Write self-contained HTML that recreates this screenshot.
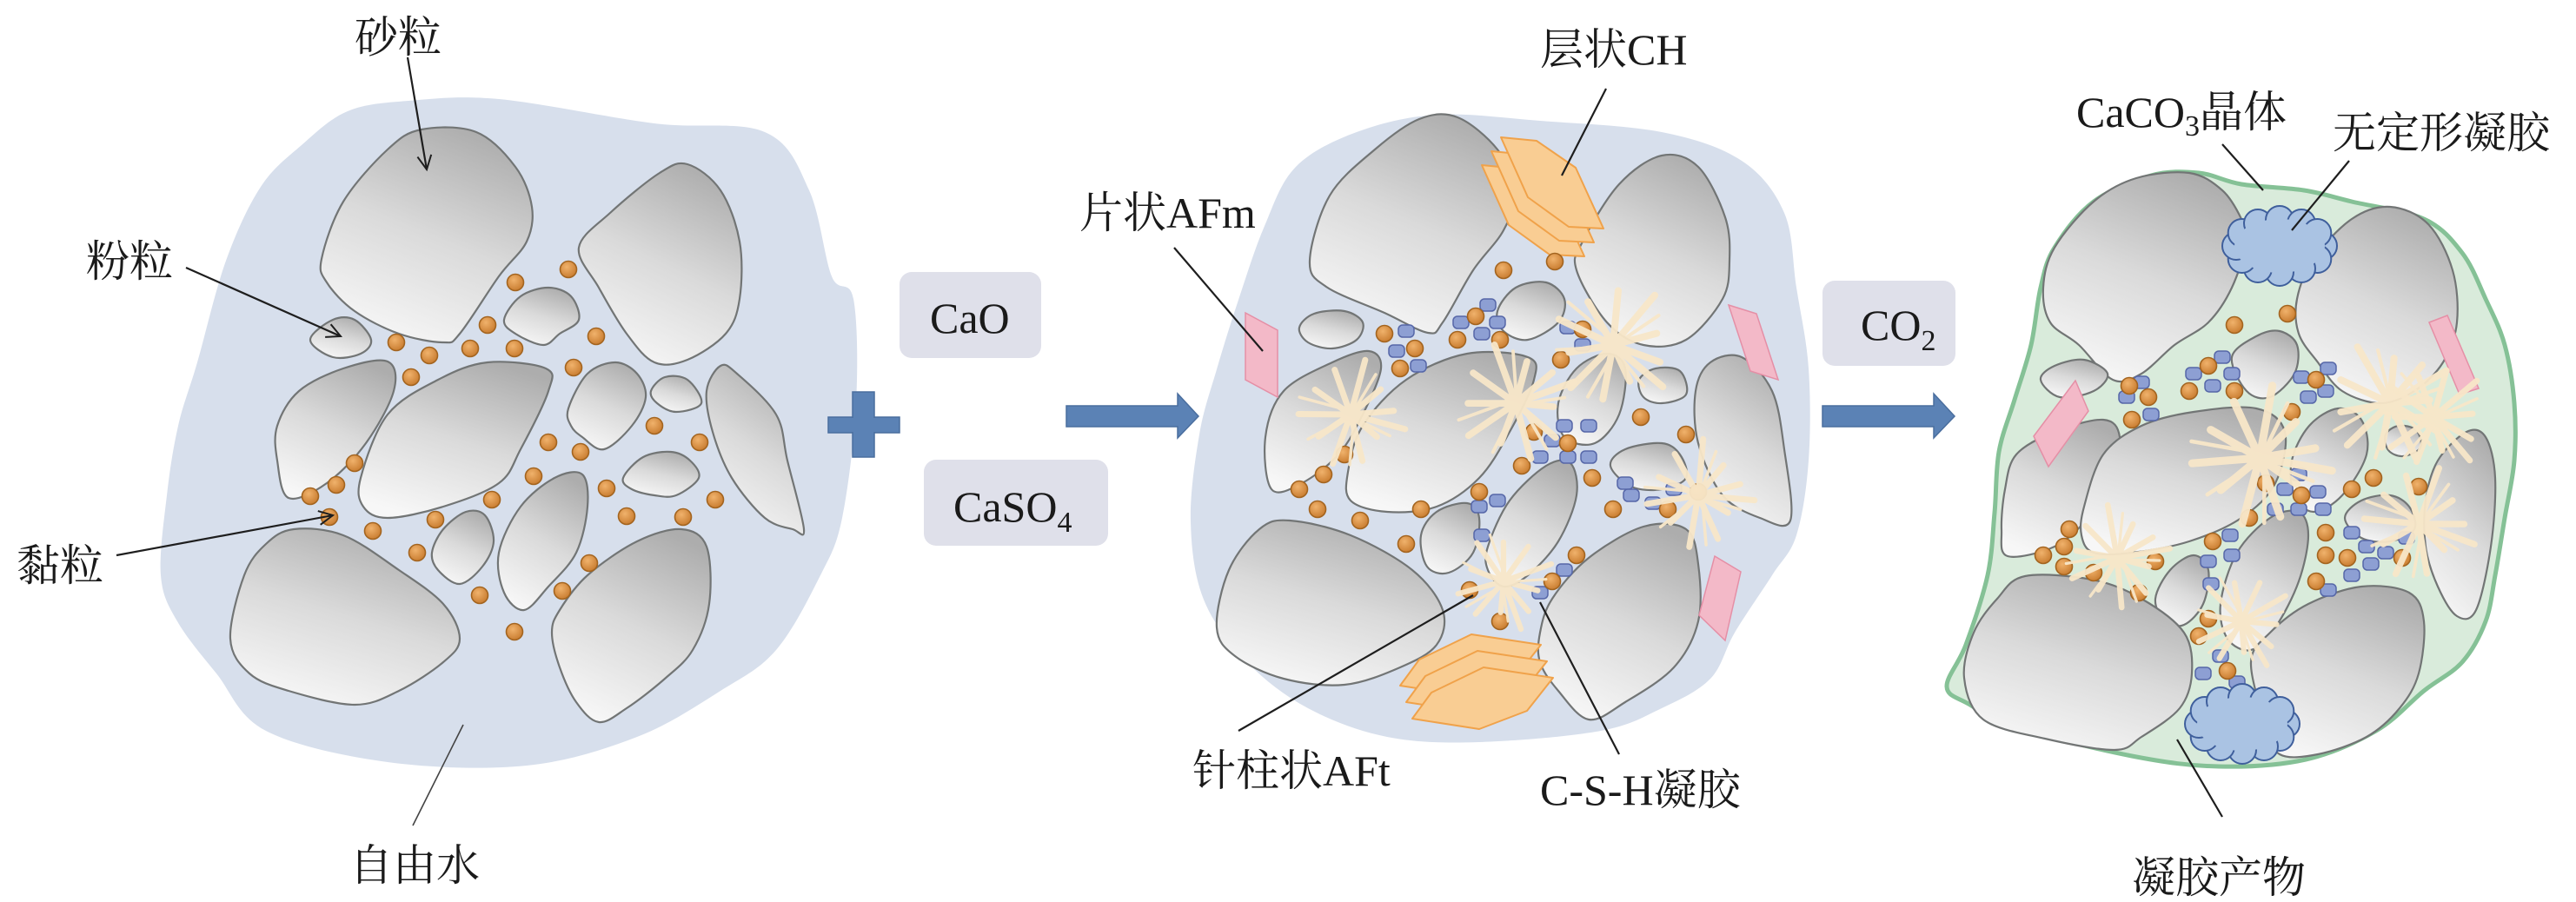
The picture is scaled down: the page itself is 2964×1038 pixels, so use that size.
<!DOCTYPE html>
<html><head><meta charset="utf-8">
<style>
html,body{margin:0;padding:0;background:#fff;}
svg{display:block}
.t{font-family:"Liberation Serif","Noto Serif CJK SC",serif;font-size:50px;fill:#1a1a1a}
.s{fill:url(#sg);stroke:#727575;stroke-width:2.2;stroke-linejoin:round}
.d{fill:url(#og);stroke:#a3641f;stroke-width:1.6}
.ld{stroke:#1e1e1e;stroke-width:2.2;fill:none}
.pk{fill:#f3b9c8;stroke:#e58fa6;stroke-width:1.5}
.hx{fill:#f9cd93;stroke:#f0a24a;stroke-width:2;stroke-linejoin:round}
.bx{fill:#dfe0ea}
</style></head><body>
<svg width="2964" height="1038" viewBox="0 0 2964 1038" xmlns="http://www.w3.org/2000/svg">
<defs>
<linearGradient id="sg" x1="0.3" y1="1" x2="0.7" y2="0">
<stop offset="0" stop-color="#f7f7f7"/><stop offset="0.5" stop-color="#dadada"/><stop offset="1" stop-color="#adadad"/>
</linearGradient>
<radialGradient id="og" cx="0.4" cy="0.35" r="0.7">
<stop offset="0" stop-color="#f0b26c"/><stop offset="1" stop-color="#c77a2d"/>
</radialGradient>
<marker id="ar" markerWidth="24" markerHeight="24" refX="20" refY="12" orient="auto" markerUnits="userSpaceOnUse">
<path d="M4,4 L20,12 L4,20" fill="none" stroke="#1e1e1e" stroke-width="2"/>
</marker>
<rect id="q" x="-9" y="-7" width="18" height="14" rx="5" fill="#8d9fd3" stroke="#5667a8" stroke-width="1.5"/>
<g id="star" opacity="0.95">
<path d="M0,0L65,0 M0,0L36,17 M0,0L27,48 M0,0L-5,60 M0,0L-29,34 M0,0L-58,15 M0,0L-47,-17 M0,0L-31,-45 M0,0L0,-65 M0,0L26,-37 M0,0L47,-17" stroke="#f8e7c9" stroke-width="7" stroke-linecap="round" fill="none"/>
<path d="M10,4L50,12 M-6,8L-40,40 M4,-10L16,-52 M-10,-4L-62,-4 M6,10L14,56" stroke="#f8e7c9" stroke-width="3.5" stroke-linecap="round" fill="none"/>
<circle r="12" fill="#f8e7c9"/>
</g>
<g id="cl">
<g fill="#aac3e3" stroke="#3f5f9c" stroke-width="2">
<circle cx="50" cy="0" r="16"/><circle cx="43.3" cy="15" r="16"/><circle cx="25" cy="26" r="16"/><circle cx="0" cy="30" r="16"/>
<circle cx="-25" cy="26" r="16"/><circle cx="-43.3" cy="15" r="16"/><circle cx="-50" cy="0" r="16"/><circle cx="-43.3" cy="-15" r="16"/>
<circle cx="-25" cy="-26" r="16"/><circle cx="0" cy="-30" r="16"/><circle cx="25" cy="-26" r="16"/><circle cx="43.3" cy="-15" r="16"/>
</g>
<ellipse cx="0" cy="0" rx="52" ry="31" fill="#aac3e3"/>
</g>
</defs>

<rect width="2964" height="1038" fill="#fff"/>

<!-- ============ PANEL 1 ============ -->
<polygon class="sm" fill="#d7dfec" points="260,300 300,215 347,167 400,128 470,116 574,114 753,142 880,152 931,219 957,318 982,344 985,464 969,596 944,662 893,748 829,795 733,848 606,881 446,877 306,841 249,775 204,715 185,662 192,570 205,490 227,417"/>
<g>
<polygon class="s sm" points="370,298 395,232 446,172 485,149 548,152 593,192 612,238 606,278 574,318 529,384 510,394 459,384 408,358 376,325"/>
<polygon class="s sm" points="666,285 702,245 759,199 791,189 829,219 851,278 851,344 835,384 791,414 753,417 721,384 689,331"/>
<polygon class="s sm" points="357,391 383,368 408,368 427,391 415,407 383,411"/>
<polygon class="s sm" points="580,368 599,341 631,331 657,341 666,368 644,384 625,397 593,384"/>
<polygon class="s sm" points="319,490 344,450 395,424 446,416 453,450 421,510 376,556 332,573 319,530"/>
<polygon class="s sm" points="415,550 446,477 504,437 561,417 628,424 631,450 599,517 574,556 510,583 446,596 418,583"/>
<polygon class="s sm" points="654,470 676,430 708,417 733,430 743,457 727,490 695,517 670,503 657,490"/>
<polygon class="s sm" points="749,450 765,434 791,437 807,464 778,474 756,464"/>
<polygon class="s sm" points="813,450 829,421 848,430 893,477 906,530 925,609 912,609 880,596 842,550 820,497"/>
<polygon class="s sm" points="717,550 740,526 772,520 794,530 804,550 778,570 753,570 727,563"/>
<polygon class="s sm" points="574,636 599,583 638,550 670,546 676,583 663,636 631,675 603,702 580,682"/>
<polygon class="s sm" points="497,636 510,609 536,589 558,593 568,623 555,652 529,672 504,656"/>
<polygon class="s sm" points="265,735 281,662 306,626 338,609 395,616 459,656 510,695 529,735 510,762 459,795 408,811 332,795 287,775"/>
<polygon class="s sm" points="635,728 644,702 676,662 733,623 784,609 813,629 816,695 797,748 765,781 721,815 689,831 663,808 644,768"/>
</g>
<g class="d">
<circle cx="654" cy="310" r="9.5"/><circle cx="593" cy="325" r="9.5"/><circle cx="561" cy="374" r="9.5"/><circle cx="686" cy="387" r="9.5"/>
<circle cx="456" cy="394" r="9.5"/><circle cx="494" cy="409" r="9.5"/><circle cx="541" cy="401" r="9.5"/><circle cx="592" cy="401" r="9.5"/>
<circle cx="473" cy="434" r="9.5"/><circle cx="660" cy="423" r="9.5"/><circle cx="753" cy="490" r="9.5"/><circle cx="805" cy="509" r="9.5"/>
<circle cx="631" cy="509" r="9.5"/><circle cx="668" cy="520" r="9.5"/><circle cx="614" cy="548" r="9.5"/><circle cx="408" cy="533" r="9.5"/>
<circle cx="387" cy="558" r="9.5"/><circle cx="357" cy="571" r="9.5"/><circle cx="379" cy="595" r="9.5"/><circle cx="566" cy="575" r="9.5"/>
<circle cx="698" cy="562" r="9.5"/><circle cx="823" cy="575" r="9.5"/><circle cx="501" cy="598" r="9.5"/><circle cx="721" cy="594" r="9.5"/>
<circle cx="786" cy="595" r="9.5"/><circle cx="429" cy="611" r="9.5"/><circle cx="480" cy="636" r="9.5"/><circle cx="678" cy="648" r="9.5"/>
<circle cx="647" cy="680" r="9.5"/><circle cx="552" cy="685" r="9.5"/><circle cx="592" cy="727" r="9.5"/>
</g>
<line class="ld" x1="469" y1="66" x2="491" y2="195" marker-end="url(#ar)"/>
<line class="ld" x1="214" y1="308" x2="392" y2="387" marker-end="url(#ar)"/>
<line class="ld" x1="134" y1="639" x2="383" y2="593" marker-end="url(#ar)"/>
<line x1="533" y1="834" x2="475" y2="950" stroke="#444" stroke-width="1.6"/>
<text class="t" x="408" y="60">砂粒</text>
<text class="t" x="99" y="318">粉粒</text>
<text class="t" x="19" y="668">黏粒</text>
<text class="t" x="402" y="1013">自由水</text>

<!-- plus -->
<g fill="#5b82b5" stroke="#4a6e9e" stroke-width="1.5">
<rect x="953" y="480" width="82" height="18"/>
<rect x="981" y="451" width="25" height="75"/>
<rect x="954" y="481" width="80" height="16" stroke="none"/>
</g>
<!-- boxes -->
<rect class="bx" x="1035" y="313" width="163" height="99" rx="14"/>
<text class="t" x="1070" y="383" font-size="48">CaO</text>
<rect class="bx" x="1063" y="529" width="212" height="99" rx="14"/>
<text class="t" x="1097" y="600" font-size="48">CaSO<tspan font-size="34" dy="12">4</tspan></text>
<!-- arrow 1 -->
<polygon points="1227,467 1355,467 1355,453 1379,479 1355,504 1355,491 1227,491" fill="#5b82b5" stroke="#4a6e9e" stroke-width="1.5"/>

<!-- ============ PANEL 2 ============ -->
<polygon class="sm" fill="#d7dfec" points="1491,192 1561,152 1653,132 1772,139 1912,152 2004,185 2053,245 2067,331 2081,424 2081,530 2067,616 2039,662 1996,728 1968,781 1912,815 1842,841 1702,854 1596,848 1505,815 1435,762 1385,690 1370,600 1380,500 1400,425 1425,345 1455,260"/>
<g>
<polygon class="s sm" points="1507,300 1530,225 1582,172 1633,137 1677,135 1723,172 1744,219 1730,265 1695,311 1660,371 1643,383 1593,360 1526,330"/>
<polygon class="s sm" points="1821,278 1863,212 1912,179 1954,192 1985,250 1990,300 1982,344 1940,391 1891,397 1849,371 1814,311"/>
<polygon class="s sm" points="1495,377 1512,361 1547,358 1568,371 1561,391 1533,401 1505,394"/>
<polygon class="s sm" points="1723,358 1744,331 1779,325 1800,344 1793,371 1758,391 1730,381"/>
<polygon class="s sm" points="1456,503 1477,450 1533,417 1575,404 1589,424 1568,477 1540,523 1498,556 1463,563"/>
<polygon class="s sm" points="1551,543 1568,490 1618,437 1688,407 1758,411 1765,437 1737,497 1702,550 1653,583 1596,589 1554,576"/>
<polygon class="s sm" points="1793,464 1814,424 1849,407 1870,424 1863,477 1835,510 1800,503"/>
<polygon class="s sm" points="1886,437 1905,424 1933,427 1940,454 1912,464 1891,457"/>
<polygon class="s sm" points="1951,450 1968,417 2004,411 2039,450 2053,517 2060,599 2025,596 1982,570 1954,510"/>
<polygon class="s sm" points="1853,536 1870,517 1912,510 1933,523 1940,550 1912,563 1877,560"/>
<polygon class="s sm" points="1635,616 1653,589 1688,579 1702,596 1695,636 1667,659 1642,652"/>
<polygon class="s sm" points="1712,629 1737,576 1779,536 1807,533 1814,570 1793,623 1758,662 1730,675 1712,656"/>
<polygon class="s sm" points="1400,722 1414,656 1449,609 1484,599 1554,616 1625,656 1660,702 1653,742 1611,768 1547,788 1477,781 1421,755"/>
<polygon class="s sm" points="1772,728 1786,689 1828,642 1891,606 1940,609 1954,649 1954,715 1926,768 1870,808 1828,828 1793,795 1772,762"/>
</g>
<polygon class="pk" points="1433,360 1470,380 1470,457 1433,437"/>
<polygon class="pk" points="1989,351 2021,361 2046,437 2014,427"/>
<polygon class="pk" points="1973,640 2003,658 1985,737 1955,708"/>
<!-- CH hexagons top -->
<g transform="translate(-22,32)"><polygon class="hx" points="1727,158 1768,162 1813,193 1845,263 1805,261 1758,227"/></g>
<g transform="translate(-11,16)"><polygon class="hx" points="1727,158 1768,162 1813,193 1845,263 1805,261 1758,227"/></g>
<polygon class="hx" points="1727,158 1768,162 1813,193 1845,263 1805,261 1758,227"/>
<!-- CH hexagons bottom -->
<g transform="translate(-14,-38)"><polygon class="hx" points="1625,827 1647,797 1707,768 1787,780 1757,818 1702,839"/></g>
<g transform="translate(-7,-19)"><polygon class="hx" points="1625,827 1647,797 1707,768 1787,780 1757,818 1702,839"/></g>
<polygon class="hx" points="1625,827 1647,797 1707,768 1787,780 1757,818 1702,839"/>
<g>
<use href="#q" x="1618" y="381"/><use href="#q" x="1607" y="404"/><use href="#q" x="1632" y="421"/><use href="#q" x="1681" y="371"/>
<use href="#q" x="1712" y="351"/><use href="#q" x="1723" y="371"/><use href="#q" x="1705" y="384"/><use href="#q" x="1804" y="377"/>
<use href="#q" x="1821" y="397"/><use href="#q" x="1800" y="490"/><use href="#q" x="1828" y="490"/><use href="#q" x="1786" y="507"/>
<use href="#q" x="1772" y="526"/><use href="#q" x="1804" y="526"/><use href="#q" x="1828" y="526"/><use href="#q" x="1870" y="556"/>
<use href="#q" x="1877" y="570"/><use href="#q" x="1902" y="579"/><use href="#q" x="1926" y="563"/><use href="#q" x="1702" y="583"/>
<use href="#q" x="1723" y="576"/><use href="#q" x="1705" y="616"/><use href="#q" x="1772" y="682"/><use href="#q" x="1800" y="656"/>
<use href="#q" x="1786" y="669"/>
</g>
<g class="d">
<circle cx="1730" cy="311" r="9.5"/><circle cx="1789" cy="301" r="9.5"/><circle cx="1698" cy="364" r="9.5"/><circle cx="1593" cy="384" r="9.5"/>
<circle cx="1628" cy="401" r="9.5"/><circle cx="1677" cy="391" r="9.5"/><circle cx="1726" cy="391" r="9.5"/><circle cx="1611" cy="424" r="9.5"/>
<circle cx="1796" cy="414" r="9.5"/><circle cx="1821" cy="379" r="9.5"/><circle cx="1888" cy="480" r="9.5"/><circle cx="1940" cy="500" r="9.5"/>
<circle cx="1765" cy="497" r="9.5"/><circle cx="1804" cy="510" r="9.5"/><circle cx="1547" cy="523" r="9.5"/><circle cx="1523" cy="546" r="9.5"/>
<circle cx="1495" cy="563" r="9.5"/><circle cx="1516" cy="586" r="9.5"/><circle cx="1565" cy="599" r="9.5"/><circle cx="1702" cy="566" r="9.5"/>
<circle cx="1751" cy="536" r="9.5"/><circle cx="1832" cy="550" r="9.5"/><circle cx="1856" cy="586" r="9.5"/><circle cx="1919" cy="586" r="9.5"/>
<circle cx="1954" cy="566" r="9.5"/><circle cx="1635" cy="586" r="9.5"/><circle cx="1618" cy="626" r="9.5"/><circle cx="1814" cy="639" r="9.5"/>
<circle cx="1786" cy="669" r="9.5"/><circle cx="1691" cy="679" r="9.5"/><circle cx="1726" cy="715" r="9.5"/>
</g>
<use href="#star" transform="translate(1554,477) rotate(15)"/>
<use href="#star" transform="translate(1744,464) rotate(-20) scale(1.1)"/>
<use href="#star" transform="translate(1856,397) rotate(40) scale(1.15)"/>
<use href="#star" transform="translate(1954,570) rotate(5)"/>
<use href="#star" transform="translate(1730,669) rotate(70) scale(0.9)"/>
<line class="ld" x1="1848" y1="102" x2="1797" y2="202"/>
<line class="ld" x1="1351" y1="285" x2="1453" y2="404"/>
<line class="ld" x1="1425" y1="841" x2="1695" y2="685"/>
<line class="ld" x1="1863" y1="868" x2="1772" y2="693"/>
<text class="t" x="1772" y="74">层状CH</text>
<text class="t" x="1242" y="262">片状AFm</text>
<text class="t" x="1372" y="904">针柱状AFt</text>
<text class="t" x="1772" y="926">C-S-H凝胶</text>

<!-- CO2 box & arrow 2 -->
<rect class="bx" x="2097" y="323" width="153" height="98" rx="14"/>
<text class="t" x="2141" y="391" font-size="48">CO<tspan font-size="34" dy="12">2</tspan></text>
<polygon points="2097,467 2225,467 2225,453 2249,479 2225,504 2225,491 2097,491" fill="#5b82b5" stroke="#4a6e9e" stroke-width="1.5"/>

<!-- ============ PANEL 3 ============ -->
<polygon class="sm" fill="#d9ebdb" stroke="#85c196" stroke-width="5" points="2348,331 2364,285 2409,232 2475,202 2530,199 2579,212 2651,219 2706,232 2789,252 2833,291 2860,344 2882,397 2893,464 2893,530 2882,596 2871,662 2860,715 2833,762 2789,795 2734,841 2653,874 2553,882 2453,870 2320,837 2265,810 2240,790 2262,742 2287,662 2295,590 2300,520 2318,460 2337,397"/>
<g>
<polygon class="s sm" points="2351,331 2364,285 2409,232 2458,205 2519,199 2557,219 2579,252 2585,278 2568,331 2541,371 2502,397 2464,430 2431,437 2392,397 2359,371"/>
<polygon class="s sm" points="2643,344 2662,298 2706,252 2750,238 2794,258 2822,311 2827,371 2811,417 2778,450 2739,464 2695,450 2667,417 2645,384"/>
<polygon class="s sm" points="2568,411 2596,387 2623,381 2643,397 2640,430 2612,457 2585,450"/>
<polygon class="s sm" points="2348,437 2364,421 2398,414 2425,430 2409,450 2370,457"/>
<polygon class="s sm" points="2307,563 2320,523 2364,497 2420,483 2439,503 2431,556 2403,596 2364,629 2310,640 2303,610"/>
<polygon class="s sm" points="2398,583 2420,523 2464,490 2524,474 2596,470 2629,497 2618,556 2579,596 2519,623 2453,636 2409,636 2395,616"/>
<polygon class="s sm" points="2637,530 2657,490 2690,470 2717,483 2723,523 2695,570 2662,589 2640,570"/>
<polygon class="s sm" points="2745,500 2760,490 2780,495 2785,515 2765,525 2748,518"/>
<polygon class="s sm" points="2791,576 2805,530 2838,497 2860,503 2871,550 2866,629 2849,702 2827,709 2805,675 2791,629"/>
<polygon class="s sm" points="2698,596 2717,576 2750,570 2772,583 2778,609 2750,623 2717,619"/>
<polygon class="s sm" points="2480,689 2497,656 2524,639 2541,656 2535,695 2513,719 2491,715"/>
<polygon class="s sm" points="2555,695 2574,636 2612,596 2645,589 2656,616 2645,669 2618,722 2590,748 2563,735"/>
<polygon class="s sm" points="2260,780 2271,728 2298,689 2330,663 2407,667 2464,689 2513,728 2522,775 2508,815 2464,848 2433,863 2353,850 2282,828"/>
<polygon class="s sm" points="2590,762 2612,728 2656,695 2717,675 2772,682 2789,715 2783,775 2761,815 2723,848 2667,868 2623,868 2607,834"/>
</g>
<polygon class="pk" points="2340,502 2388,438 2403,473 2357,537"/>
<polygon class="pk" points="2795,371 2816,363 2852,447 2830,454"/>
<g>
<use href="#q" x="2464" y="440"/><use href="#q" x="2447" y="457"/><use href="#q" x="2475" y="477"/><use href="#q" x="2524" y="430"/>
<use href="#q" x="2557" y="411"/><use href="#q" x="2568" y="430"/><use href="#q" x="2546" y="444"/><use href="#q" x="2648" y="434"/>
<use href="#q" x="2656" y="457"/><use href="#q" x="2679" y="424"/><use href="#q" x="2676" y="450"/><use href="#q" x="2645" y="546"/>
<use href="#q" x="2629" y="563"/><use href="#q" x="2667" y="566"/><use href="#q" x="2618" y="586"/><use href="#q" x="2645" y="586"/>
<use href="#q" x="2673" y="586"/><use href="#q" x="2546" y="623"/><use href="#q" x="2566" y="616"/><use href="#q" x="2568" y="639"/>
<use href="#q" x="2541" y="646"/><use href="#q" x="2544" y="672"/><use href="#q" x="2706" y="613"/><use href="#q" x="2723" y="629"/>
<use href="#q" x="2745" y="636"/><use href="#q" x="2769" y="619"/><use href="#q" x="2728" y="649"/><use href="#q" x="2706" y="662"/>
<use href="#q" x="2679" y="679"/><use href="#q" x="2555" y="755"/><use href="#q" x="2535" y="775"/><use href="#q" x="2574" y="785"/>
</g>
<g class="d">
<circle cx="2632" cy="361" r="9.5"/><circle cx="2571" cy="374" r="9.5"/><circle cx="2541" cy="421" r="9.5"/><circle cx="2519" cy="450" r="9.5"/>
<circle cx="2571" cy="450" r="9.5"/><circle cx="2450" cy="444" r="9.5"/><circle cx="2472" cy="457" r="9.5"/><circle cx="2453" cy="483" r="9.5"/>
<circle cx="2665" cy="437" r="9.5"/><circle cx="2637" cy="474" r="9.5"/><circle cx="2731" cy="550" r="9.5"/><circle cx="2706" cy="563" r="9.5"/>
<circle cx="2783" cy="560" r="9.5"/><circle cx="2607" cy="556" r="9.5"/><circle cx="2648" cy="570" r="9.5"/><circle cx="2588" cy="596" r="9.5"/>
<circle cx="2676" cy="613" r="9.5"/><circle cx="2381" cy="609" r="9.5"/><circle cx="2375" cy="629" r="9.5"/><circle cx="2351" cy="639" r="9.5"/>
<circle cx="2375" cy="652" r="9.5"/><circle cx="2409" cy="659" r="9.5"/><circle cx="2480" cy="646" r="9.5"/><circle cx="2461" cy="682" r="9.5"/>
<circle cx="2546" cy="623" r="9.5"/><circle cx="2676" cy="639" r="9.5"/><circle cx="2701" cy="642" r="9.5"/><circle cx="2764" cy="642" r="9.5"/>
<circle cx="2665" cy="669" r="9.5"/><circle cx="2541" cy="712" r="9.5"/><circle cx="2530" cy="732" r="9.5"/><circle cx="2563" cy="772" r="9.5"/>
</g>
<use href="#star" transform="translate(2600,527) rotate(10) scale(1.3)"/>
<use href="#star" transform="translate(2750,464) rotate(-30) scale(1.15)"/>
<use href="#star" transform="translate(2800,480) rotate(50) scale(1.0)"/>
<use href="#star" transform="translate(2783,603) rotate(20) scale(1.05)"/>
<use href="#star" transform="translate(2436,642) rotate(-10) scale(0.95)"/>
<use href="#star" transform="translate(2579,715) rotate(60) scale(0.9)"/>
<use href="#cl" transform="translate(2623,283)"/>
<use href="#cl" transform="translate(2580,833)"/>
<line class="ld" x1="2557" y1="166" x2="2604" y2="219"/>
<line class="ld" x1="2703" y1="185" x2="2637" y2="265"/>
<line class="ld" x1="2557" y1="940" x2="2505" y2="851"/>
<text class="t" x="2389" y="146">CaCO<tspan font-size="34" dy="10">3</tspan><tspan dy="-10">晶体</tspan></text>
<text class="t" x="2684" y="170">无定形凝胶</text>
<text class="t" x="2453" y="1027">凝胶产物</text>
</svg>
<script>
(function(){
var pgs=document.querySelectorAll('polygon.sm');
for(var j=0;j<pgs.length;j++){
 var pg=pgs[j];
 var n=pg.getAttribute('points').trim().split(/\s+/).map(function(s){var a=s.split(',');return [+a[0],+a[1]];});
 var L=n.length,d='M'+n[0][0]+','+n[0][1];
 for(var i=0;i<L;i++){
  var p0=n[(i-1+L)%L],p1=n[i],p2=n[(i+1)%L],p3=n[(i+2)%L];
  d+=' C'+(p1[0]+(p2[0]-p0[0])/6).toFixed(1)+','+(p1[1]+(p2[1]-p0[1])/6).toFixed(1)+' '+(p2[0]-(p3[0]-p1[0])/6).toFixed(1)+','+(p2[1]-(p3[1]-p1[1])/6).toFixed(1)+' '+p2[0]+','+p2[1];
 }
 d+='Z';
 var p=document.createElementNS('http://www.w3.org/2000/svg','path');
 for(var k=0;k<pg.attributes.length;k++){var at=pg.attributes[k];if(at.name!=='points')p.setAttribute(at.name,at.value);}
 p.setAttribute('d',d);
 pg.parentNode.replaceChild(p,pg);
}
})();
</script>
</body></html>
